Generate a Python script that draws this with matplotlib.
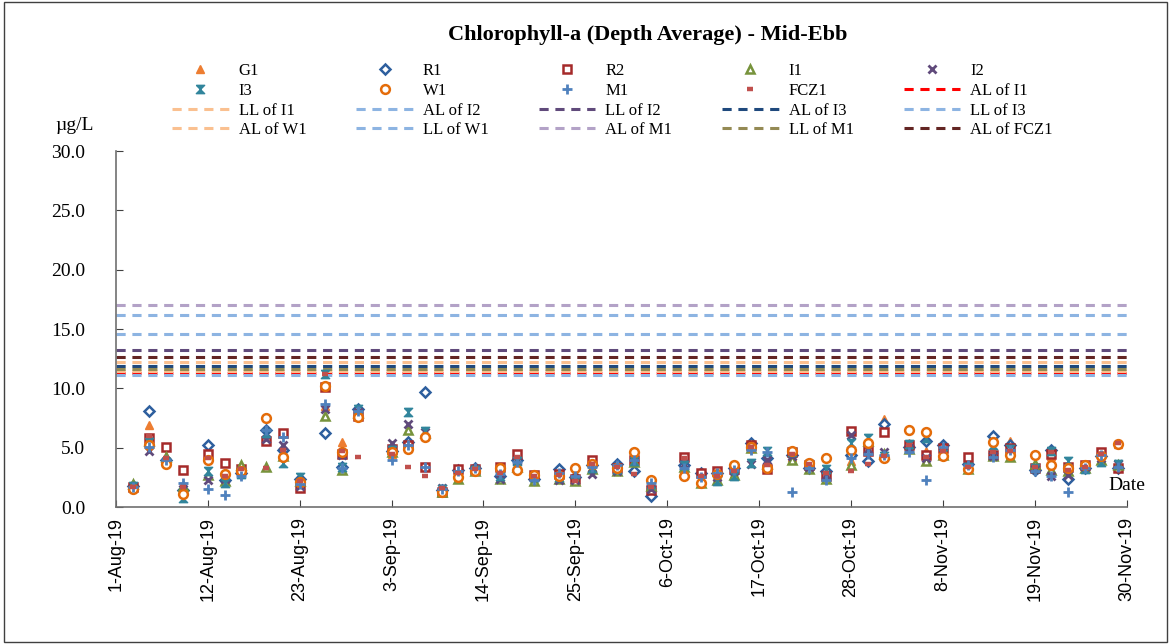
import matplotlib
matplotlib.use("Agg")
import matplotlib.pyplot as plt
import numpy as np
import pandas as pd
from matplotlib.patches import Rectangle

# sampling dates (mid-ebb)
fechas = pd.to_datetime([
    "2019-08-03", "2019-08-05", "2019-08-07", "2019-08-09", "2019-08-12", "2019-08-14",
    "2019-08-16", "2019-08-19", "2019-08-21", "2019-08-23", "2019-08-26", "2019-08-28",
    "2019-08-30", "2019-09-03", "2019-09-05", "2019-09-07", "2019-09-09", "2019-09-11",
    "2019-09-13", "2019-09-16", "2019-09-18", "2019-09-20", "2019-09-23", "2019-09-25",
    "2019-09-27", "2019-09-30", "2019-10-02", "2019-10-04", "2019-10-08", "2019-10-10",
    "2019-10-12", "2019-10-14", "2019-10-16", "2019-10-18", "2019-10-21", "2019-10-23",
    "2019-10-25", "2019-10-28", "2019-10-30", "2019-11-01", "2019-11-04", "2019-11-06",
    "2019-11-08", "2019-11-11", "2019-11-14", "2019-11-16", "2019-11-19", "2019-11-21",
    "2019-11-23", "2019-11-25", "2019-11-27", "2019-11-29"])

G1 = [1.6, 6.9, 4.3, 1.6, 4.2, 2.5, 3.1, 6.0, 4.6, 2.0, 8.5, 5.5, 7.9, 4.5, 5.0, 6.0, 1.5, 2.6,
      3.1, 3.0, 3.5, 2.6, 2.5, 2.5, 3.4, 3.4, 3.9, 1.6, 3.3, 2.4, 2.6, 2.8, 5.0, 3.8, 4.2, 3.8,
      2.8, 3.9, 5.1, 7.4, 5.4, 4.7, 4.8, 3.4, 4.5, 5.6, 3.5, 4.3, 3.5, 3.6, 4.6, 5.3]
R1 = [1.8, 8.1, 4.0, 1.4, 5.2, 2.3, 2.9, 6.5, 4.8, 2.4, 6.2, 3.4, 8.3, 4.7, 5.5, 9.7, 1.4, 3.1,
      3.3, 2.6, 4.0, 2.4, 3.2, 2.5, 3.5, 3.6, 3.0, 0.9, 3.5, 2.9, 2.9, 3.3, 5.4, 4.1, 4.4, 3.3,
      3.0, 4.4, 3.9, 7.0, 5.1, 5.6, 5.2, 3.6, 6.0, 5.2, 3.1, 4.8, 2.4, 3.3, 4.3, 3.3]
R2 = [1.7, 5.8, 5.1, 3.1, 4.5, 3.7, 3.2, 5.6, 6.2, 1.6, 10.1, 4.5, 7.7, 4.9, 5.2, 3.4, 1.3, 3.2,
      3.2, 3.4, 4.5, 2.7, 2.8, 2.4, 4.0, 3.3, 4.0, 1.4, 4.2, 2.9, 3.0, 3.2, 5.2, 3.2, 4.6, 3.5,
      2.6, 6.4, 4.7, 6.3, 5.2, 4.4, 5.0, 4.2, 4.4, 5.0, 3.3, 4.5, 3.4, 3.5, 4.6, 3.3]
I1 = [1.9, 5.6, 4.2, 1.8, 2.7, 2.2, 3.5, 3.4, 4.3, 2.2, 7.7, 3.1, 7.9, 4.6, 6.5, 6.2, 1.3, 2.4,
      3.0, 2.4, 3.4, 2.2, 2.4, 2.2, 3.2, 3.0, 3.8, 1.8, 3.4, 2.0, 2.3, 2.7, 5.0, 3.6, 4.0, 3.2,
      2.4, 3.5, 5.6, 4.5, 4.9, 3.9, 4.4, 3.2, 4.3, 4.2, 3.6, 3.1, 3.0, 3.3, 4.0, 3.5]
I2 = [1.6, 4.7, 3.9, 1.5, 2.3, 2.4, 3.0, 5.7, 5.2, 1.8, 8.3, 4.4, 8.0, 5.4, 7.0, 6.3, 1.6, 2.8,
      3.2, 2.4, 3.9, 2.5, 2.3, 2.3, 2.8, 3.0, 4.2, 1.5, 3.6, 2.3, 2.5, 3.0, 3.6, 4.0, 4.3, 3.4,
      2.7, 6.1, 4.9, 4.6, 5.0, 4.1, 4.6, 3.3, 4.3, 4.6, 3.2, 2.6, 2.7, 3.4, 4.1, 3.6]
I3 = [1.8, 5.5, 3.8, 0.8, 3.0, 2.0, 2.8, 6.2, 3.7, 2.5, 11.2, 3.4, 8.3, 4.8, 8.0, 6.4, 1.5, 2.7,
      3.1, 2.6, 3.9, 2.5, 2.5, 2.8, 3.3, 3.2, 3.9, 1.9, 3.5, 2.3, 2.2, 2.6, 3.7, 4.7, 4.6, 3.6,
      3.2, 5.4, 5.8, 4.3, 5.3, 5.8, 4.5, 3.4, 5.2, 4.9, 3.3, 4.7, 3.9, 3.2, 3.8, 3.6]
W1 = [1.5, 5.2, 3.6, 1.1, 4.0, 2.8, 3.0, 7.5, 4.2, 2.1, 10.2, 4.6, 7.6, 4.6, 4.9, 5.9, 1.3, 2.5,
      3.0, 3.3, 3.1, 2.7, 2.6, 3.3, 3.6, 3.3, 4.6, 2.3, 2.6, 2.0, 2.8, 3.5, 5.1, 3.3, 4.7, 3.7,
      4.1, 4.8, 5.4, 4.1, 6.5, 6.3, 4.3, 3.2, 5.5, 4.4, 4.4, 3.5, 3.3, 3.5, 4.3, 5.3]
M1 = [1.7, 5.1, 4.0, 2.0, 1.5, 1.0, 2.6, 6.5, 5.9, 1.9, 8.7, 3.3, 8.1, 4.0, 5.2, 3.4, 1.5, 3.0,
      3.3, 2.8, 3.8, 2.3, 2.9, 2.6, 3.4, 3.5, 4.0, 2.0, 3.3, 2.5, 2.9, 3.1, 4.8, 4.6, 1.3, 3.3,
      2.3, 4.1, 4.5, 4.4, 4.6, 2.3, 5.1, 3.5, 4.2, 4.8, 3.0, 2.6, 1.3, 3.3, 4.4, 3.4]
FCZ1 = [1.7, 6.0, 4.1, 1.7, 4.1, 2.6, 3.2, 3.3, 4.8, 2.2, 11.2, 4.7, 4.2, 4.5, 3.4, 2.6, 1.6, 2.9,
        3.2, 2.9, 4.2, 2.6, 2.7, 2.2, 3.6, 3.4, 2.8, 1.7, 4.1, 2.6, 2.6, 3.0, 5.1, 3.5, 4.5, 3.6,
        2.9, 3.0, 3.6, 4.3, 5.2, 4.2, 4.7, 3.4, 4.6, 4.7, 3.4, 4.6, 3.1, 3.4, 4.5, 5.4]

# action / limit levels
niveles_nombres = ["AL of I1", "LL of I1", "AL of I2", "LL of I2", "AL of I3", "LL of I3",
                   "AL of W1", "LL of W1", "AL of M1", "LL of M1", "AL of FCZ1"]
niveles_valores = [11.3, 12.2, 11.1, 13.2, 11.9, 16.2, 11.45, 14.6, 17.0, 11.6, 12.6]
niveles_colores = ["#FF0000", "#FAC090", "#8DB4E2", "#604A7B", "#1F497D", "#8DB4E2",
                   "#FAC090", "#8DB4E2", "#B3A2C7", "#948A54", "#632523"]

plt.rcParams["font.family"] = ["Liberation Serif", "DejaVu Serif"]

fig = plt.figure(figsize=(11.71, 6.44), dpi=100)
ax = fig.add_axes([0.0991, 0.2127, 0.8629, 0.5528])

x0 = pd.Timestamp("2019-08-01")
x1 = pd.Timestamp("2019-11-30")

# horizontal levels first (under points)
lineas = []
for nom, val, col in zip(niveles_nombres, niveles_valores, niveles_colores):
    l, = ax.plot([x0, x1], [val, val], color=col, linestyle=(0, (3, 2.2)), linewidth=2.2,
                 label=nom, zorder=1)
    lineas.append(l)

hourglass = [(-1, 1), (1, 1), (-1, -1), (1, -1), (-1, 1)]
series = [
    ("G1", G1, dict(marker="^", color="#ED7D31", markersize=6)),
    ("R1", R1, dict(marker="D", color="#2E5F9E", markerfacecolor="white", markeredgewidth=1.8, markersize=4.8)),
    ("R2", R2, dict(marker="s", color="#A52A2A", markerfacecolor="white", markeredgewidth=1.8, markersize=6)),
    ("I1", I1, dict(marker="^", color="#77933C", markerfacecolor="white", markeredgewidth=1.8, markersize=6)),
    ("I2", I2, dict(marker="x", color="#604A7B", markeredgewidth=2, markersize=5.5)),
    ("I3", I3, dict(marker=hourglass, color="#31859C", markersize=6)),
    ("W1", W1, dict(marker="o", color="#E46C0A", markerfacecolor="white", markeredgewidth=1.8, markersize=6.3)),
    ("M1", M1, dict(marker="+", color="#4F81BD", markeredgewidth=2, markersize=6.5)),
    ("FCZ1", FCZ1, dict(marker="_", color="#C0504D", markeredgewidth=3.2, markersize=4.5)),
]
puntos = []
for nom, vals, st in series:
    p, = ax.plot(fechas, vals, linestyle="none", label=nom, zorder=3, **st)
    puntos.append(p)

ax.set_xlim(x0, x1)
ax.set_ylim(0, 30)
ax.set_yticks(np.arange(0, 30.1, 5))
ax.yaxis.set_major_formatter(plt.FormatStrFormatter("%.1f"))
ticks = pd.date_range(x0, x1, freq="11D")
ax.set_xticks(ticks)
ax.set_xticklabels([f"{d.day}-{d.strftime('%b-%y')}" for d in ticks], rotation=90,
                   fontsize=13, family=["Liberation Sans", "DejaVu Sans"])
ax.tick_params(axis="both", direction="in", length=5, color="#404040")
ax.tick_params(axis="y", labelsize=14, pad=22)
ax.tick_params(axis="x", pad=7)
for s in ["top", "right"]:
    ax.spines[s].set_visible(False)
for s in ["left", "bottom"]:
    ax.spines[s].set_color("#707070")
    ax.spines[s].set_linewidth(1.2)

ax.text(1.0, 0.06, "Date", transform=ax.transAxes, fontsize=14, ha="center", va="center")
fig.text(0.047, 0.805, "µg/L", fontsize=14, ha="left", va="center")
fig.text(0.553, 0.945, "Chlorophyll-a (Depth Average) - Mid-Ebb", fontsize=16,
         fontweight="bold", ha="center", va="center")

# legend in row-major order
todos = puntos + lineas
orden = [todos[r * 5 + c] for c in range(5) for r in range(4)]
fig.legend(orden, [h.get_label() for h in orden], loc="upper center",
           bbox_to_anchor=(0.523, 0.925), ncol=5, frameon=False, fontsize=12,
           handlelength=3.4, columnspacing=3.0, handletextpad=0.6, labelspacing=0.22)

fig.add_artist(Rectangle((0.003, 0.003), 0.994, 0.994, transform=fig.transFigure,
                         fill=False, edgecolor="#404040", linewidth=1))

fig.savefig("out.png", dpi=100)
